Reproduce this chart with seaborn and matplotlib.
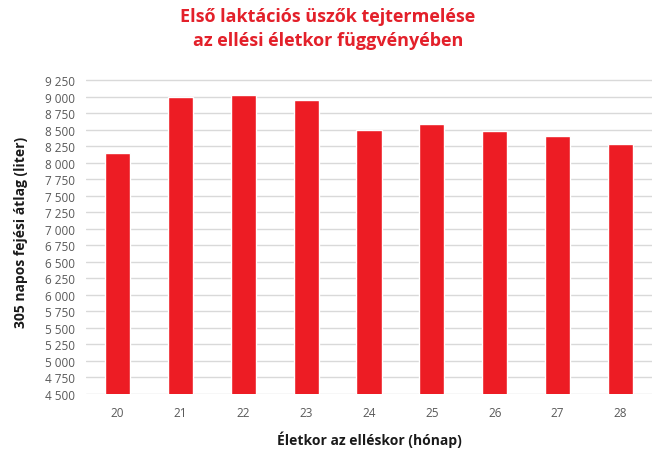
import matplotlib
matplotlib.use("Agg")
import matplotlib.pyplot as plt
import matplotlib.ticker as mtick
import seaborn as sns
import pandas as pd
import numpy as np

# data
ages = ['20', '21', '22', '23', '24', '25', '26', '27', '28']
milk = [8150, 9000, 9020, 8945, 8500, 8580, 8480, 8400, 8280]

df = pd.DataFrame({'age': ages, 'milk': milk})

sns.set_theme(style="white")
plt.rcParams['font.family'] = ['Open Sans', 'DejaVu Sans']

fig = plt.figure(figsize=(6.56, 4.52), dpi=100)
ax = fig.add_axes([86 / 656, 1 - 395 / 452, 566 / 656, (395 - 70) / 452])

sns.barplot(data=df, x='age', y='milk', color='#ED1C24', saturation=1,
            width=0.4, ax=ax, zorder=3)

ax.set_ylim(4500, 9420)
ax.set_yticks(np.arange(4500, 9251, 250))
ax.yaxis.set_major_formatter(mtick.FuncFormatter(lambda v, p: f'{int(v):,}'.replace(',', ' ')))
ax.grid(axis='y', color='#d9d9d9', linewidth=1, zorder=0)
for s in ['top', 'right', 'left', 'bottom']:
    ax.spines[s].set_visible(False)
ax.tick_params(axis='both', length=0, labelsize=8.5, colors='#595959')
ax.tick_params(axis='x', pad=9)
ax.tick_params(axis='y', pad=8)

ax.set_xlabel('Életkor az elléskor (hónap)', fontsize=10, fontweight='bold',
              color='#1a1a1a', labelpad=8)
ax.set_ylabel('305 napos fejési átlag (liter)', fontsize=10, fontweight='bold',
              color='#1a1a1a', labelpad=12)

fig.text(0.5, 0.982, 'Első laktációs üszők tejtermelése\naz ellési életkor függvényében',
         ha='center', va='top', fontsize=13, fontweight='bold', color='#E3202A',
         linespacing=1.45)

fig.savefig('out.png', dpi=100)
